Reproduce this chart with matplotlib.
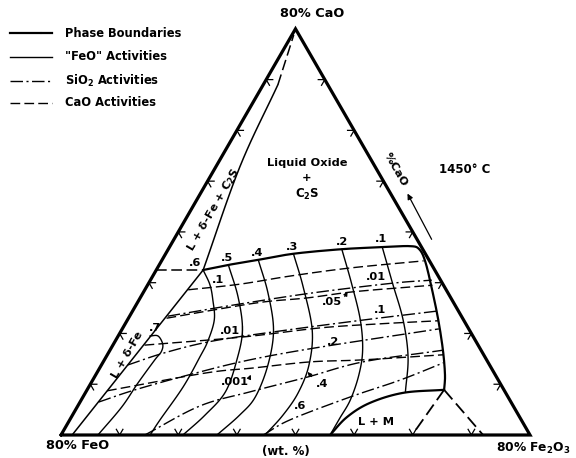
import numpy as np
import matplotlib
matplotlib.use('Agg')
import matplotlib.pyplot as plt

plt.rcParams['font.family'] = 'DejaVu Sans'
plt.rcParams['font.weight'] = 'bold'
plt.rcParams['mathtext.default'] = 'bf'

# compositions as (wt% CaO, wt% Fe2O3); each apex of the diagram is 80 %
# --- phase boundaries ---
liq_top_cao = [32.5, 33.5, 34.5, 35.7, 36.6, 37.0, 37.2, 36.6, 34.1, 28.6, 22.7, 16.7, 11.8, 8.9]
liq_top_fe = [8.0, 11.8, 16.4, 21.8, 29.6, 36.3, 40.9, 42.8, 45.1, 49.0, 53.0, 56.8, 59.6, 60.9]
lm_cao = [8.9, 8.3, 6.3, 3.5, 0.0]
lm_fe = [60.9, 54.2, 49.5, 47.0, 45.9]
delta_cao = [0.0, 32.5]
delta_fe = [1.9, 8.0]
c2s_cao = [32.5, 52.8, 69.0]
c2s_fe = [8.0, 4.1, 2.5]
c2s_top_cao = [69.0, 78.8]
c2s_top_fe = [2.5, 0.3]
tie_cao = [32.5, 32.5]
tie_fe = [0.0, 8.0]
mag_a_cao = [8.9, 0.0]
mag_a_fe = [60.9, 59.9]
mag_b_cao = [8.9, 0.0]
mag_b_fe = [60.9, 72.0]

# --- "FeO" activities ---
feo_07_cao = [19.5, 19.5, 17.9, 16.4, 14.8, 10.2, 5.5, 0.0]
feo_07_fe = [5.4, 6.8, 8.4, 8.9, 8.6, 8.0, 7.6, 6.3]
feo_06_cao = [32.5, 29.6, 26.6, 22.7, 18.5, 15.4, 9.5, 3.0, 0.0]
feo_06_fe = [8.0, 10.6, 12.6, 14.8, 15.8, 16.0, 16.1, 15.4, 15.2]
feo_05_cao = [33.5, 27.2, 20.7, 14.8, 8.5, 3.9, 0.0]
feo_05_fe = [11.8, 16.6, 20.6, 22.6, 23.8, 22.6, 20.8]
feo_04_cao = [34.5, 28.0, 20.7, 13.8, 7.5, 3.9, 0.0]
feo_04_fe = [16.4, 21.3, 25.9, 28.4, 29.4, 28.5, 26.6]
feo_03_cao = [35.7, 29.2, 20.7, 13.8, 8.3, 3.9, 0.0]
feo_03_fe = [21.8, 26.7, 32.5, 35.4, 36.3, 35.9, 34.8]
feo_02_cao = [36.6, 29.9, 22.7, 16.7, 11.8, 6.9, 3.3, 0.0]
feo_02_fe = [29.6, 34.6, 39.7, 43.1, 44.9, 45.9, 45.9, 45.9]
feo_01_cao = [37.0, 29.9, 22.7, 15.4, 8.5]
feo_01_fe = [36.3, 41.6, 47.0, 51.5, 54.5]

# --- SiO2 activities ---
sio2_001_cao = [23.4, 25.8, 28.0, 29.9, 30.5]
sio2_001_fe = [6.5, 17.6, 29.0, 41.6, 48.0]
sio2_01_cao = [13.8, 16.2, 18.5, 20.5, 22.5, 24.4]
sio2_01_fe = [4.5, 9.6, 16.6, 27.2, 39.3, 51.9]
sio2_02_cao = [6.5, 8.9, 12.0, 14.8, 17.3, 20.9]
sio2_02_fe = [3.2, 8.2, 16.3, 24.8, 35.5, 54.0]
sio2_04_cao = [0.0, 5.7, 8.5, 11.4, 14.4, 16.7]
sio2_04_fe = [14.3, 20.8, 28.0, 36.3, 44.3, 56.8]
sio2_06_cao = [0.0, 3.0, 7.5, 10.8, 14.2]
sio2_06_fe = [34.5, 37.6, 45.6, 52.4, 58.1]

# --- CaO activities ---
cao_01_cao = [28.6, 29.7, 31.3, 32.9, 34.3]
cao_01_fe = [7.4, 15.6, 23.4, 32.9, 44.7]
cao_005_cao = [23.0, 24.6, 26.2, 27.0, 28.2, 29.2, 29.5]
cao_005_fe = [6.5, 13.6, 21.4, 28.5, 35.7, 45.5, 48.6]
cao_001_cao = [17.7, 19.3, 21.1, 21.9, 22.5]
cao_001_fe = [5.4, 21.3, 33.7, 43.5, 53.1]
cao_0001_cao = [8.7, 12.2, 13.2, 14.4, 14.8, 15.8]
cao_0001_fe = [3.5, 18.5, 26.2, 35.3, 44.1, 57.3]

feo_curves = [(feo_07_cao, feo_07_fe), (feo_06_cao, feo_06_fe), (feo_05_cao, feo_05_fe),
              (feo_04_cao, feo_04_fe), (feo_03_cao, feo_03_fe), (feo_02_cao, feo_02_fe),
              (feo_01_cao, feo_01_fe)]
sio2_curves = [(sio2_001_cao, sio2_001_fe), (sio2_01_cao, sio2_01_fe), (sio2_02_cao, sio2_02_fe),
               (sio2_04_cao, sio2_04_fe), (sio2_06_cao, sio2_06_fe)]
cao_curves = [(cao_01_cao, cao_01_fe), (cao_005_cao, cao_005_fe), (cao_001_cao, cao_001_fe),
              (cao_0001_cao, cao_0001_fe)]

DASH = (0, (7, 3))
DASHDOT = (0, (9, 2.5, 1.5, 2.5))


def tern(cao, fe2o3):
    c = np.asarray(cao, dtype=float) / 80.0
    f = np.asarray(fe2o3, dtype=float) / 80.0
    return f + c / 2.0, c * np.sqrt(3) / 2.0


def catmull(x, y, n=10):
    # simple Catmull-Rom so the hand-drawn curves stay round
    p = np.column_stack([x, y])
    if len(p) < 3:
        return x, y
    p = np.vstack([2 * p[0] - p[1], p, 2 * p[-1] - p[-2]])
    out = []
    t = np.linspace(0, 1, n, endpoint=False)[:, None]
    for i in range(1, len(p) - 2):
        p0, p1, p2, p3 = p[i - 1], p[i], p[i + 1], p[i + 2]
        seg = 0.5 * (2 * p1 + (-p0 + p2) * t + (2 * p0 - 5 * p1 + 4 * p2 - p3) * t ** 2
                     + (-p0 + 3 * p1 - 3 * p2 + p3) * t ** 3)
        out.append(seg)
    out.append(p[-2][None, :])
    out = np.vstack(out)
    return out[:, 0], out[:, 1]


def tline(ax, cao, fe, smooth=True, **kw):
    x, y = tern(cao, fe)
    if smooth:
        x, y = catmull(x, y)
    ax.plot(x, y, color='black', solid_capstyle='round', **kw)


fig = plt.figure(figsize=(5.76, 4.58), dpi=100)
ax = fig.add_axes([0, 0, 1, 1])
ax.set_xlim(-61 / 469, 515 / 469)
ax.set_ylim(-23 / 469, 435 / 469)
ax.axis('off')

# triangle frame
tline(ax, [0, 0, 80, 0], [0, 80, 0, 0], smooth=False, lw=2.3, solid_joinstyle='miter')

# edge ticks, arms parallel to the other two sides
h = np.sqrt(3) / 2
arm = 0.014
corners = np.array([[0, 0], [1, 0], [0.5, h]])
for i in range(3):
    p0, p1 = corners[i], corners[(i + 1) % 3]
    other = corners[(i + 2) % 3]
    d1 = (other - p1) / np.linalg.norm(other - p1)
    d2 = (other - p0) / np.linalg.norm(other - p0)
    for k in range(1, 8):
        p = p0 + (p1 - p0) * k / 8
        ax.plot([p[0] + arm * d1[0], p[0], p[0] + arm * d2[0]],
                [p[1] + arm * d1[1], p[1], p[1] + arm * d2[1]], color='black', lw=0.9)

# phase boundaries
tline(ax, liq_top_cao, liq_top_fe, lw=1.6)
tline(ax, lm_cao, lm_fe, lw=1.6)
tline(ax, delta_cao, delta_fe, lw=1.1)
tline(ax, c2s_cao, c2s_fe, lw=1.1)
tline(ax, c2s_top_cao, c2s_top_fe, lw=1.1, ls=DASH)
tline(ax, tie_cao, tie_fe, lw=1.1, ls=DASH)
tline(ax, mag_a_cao, mag_a_fe, lw=1.3, ls=DASH)
tline(ax, mag_b_cao, mag_b_fe, lw=1.3, ls=DASH)

# activity isolines
for cc, ff in feo_curves:
    tline(ax, cc, ff, lw=1.0)
for cc, ff in sio2_curves:
    tline(ax, cc, ff, lw=1.0, ls=DASHDOT)
for cc, ff in cao_curves:
    tline(ax, cc, ff, lw=1.0, ls=DASH)

fs = 8.2
lab = dict(fontsize=fs, ha='center', va='center')

# FeO activity labels along the liquid boundary
for t, xy in [('.6', (0.286, 0.367)), ('.5', (0.354, 0.377)), ('.4', (0.418, 0.388)),
              ('.3', (0.493, 0.401)), ('.2', (0.599, 0.412)), ('.1', (0.682, 0.418)),
              ('.7', (0.200, 0.228))]:
    ax.text(*xy, t, **lab)

# CaO activity labels
ax.text(0.335, 0.330, '.1', **lab)
ax.text(0.360, 0.222, '.01', **lab)
ax.plot([0.386, 0.386, 0.398], [0.232, 0.212, 0.212], color='black', lw=0.8)
ax.text(0.578, 0.284, '.05', **lab)
ax.annotate('', xy=(0.614, 0.311), xytext=(0.602, 0.290),
            arrowprops=dict(arrowstyle='-|>', color='black', lw=0.8, mutation_scale=6))
ax.text(0.371, 0.113, '.001', **lab)
ax.annotate('', xy=(0.407, 0.134), xytext=(0.400, 0.118),
            arrowprops=dict(arrowstyle='-|>', color='black', lw=0.8, mutation_scale=6))

# SiO2 activity labels
ax.text(0.672, 0.337, '.01', **lab)
ax.text(0.680, 0.267, '.1', **lab)
ax.text(0.580, 0.198, '.2', **lab)
ax.text(0.556, 0.109, '.4', **lab)
ax.annotate('', xy=(0.522, 0.139), xytext=(0.538, 0.120),
            arrowprops=dict(arrowstyle='-|>', color='black', lw=0.8, mutation_scale=6))
ax.text(0.510, 0.062, '.6', **lab)

# field labels
ax.text(0.524, 0.580, 'Liquid Oxide', **lab)
ax.text(0.524, 0.548, '+', **lab)
ax.text(0.524, 0.512, 'C$_2$S', fontsize=8.5, ha='center', va='center')
ax.text(0.672, 0.028, 'L + M', **lab)
ax.text(0.326, 0.480, 'L + δ-Fe + C$_2$S', fontsize=fs, ha='center', va='center',
        rotation=60, rotation_mode='anchor')
ax.text(0.141, 0.171, 'L + δ-Fe', fontsize=fs, ha='center', va='center',
        rotation=60, rotation_mode='anchor')
ax.text(0.861, 0.567, '1450° C', fontsize=8.5, ha='center', va='center')
ax.text(0.714, 0.565, '%CaO', fontsize=fs, ha='center', va='center',
        rotation=-60, rotation_mode='anchor')
ax.annotate('', xy=(0.736, 0.520), xytext=(0.793, 0.412),
            arrowprops=dict(arrowstyle='-|>', color='black', lw=0.9, mutation_scale=8))

# corner labels
ax.text(0.535, 0.898, '80% CaO', fontsize=9.3, ha='center', va='center')
ax.text(0.036, -0.023, '80% FeO', fontsize=9.3, ha='center', va='center')
ax.text(1.006, -0.028, '80% Fe$_2$O$_3$', fontsize=8.8, ha='center', va='center')
ax.text(0.480, -0.036, '(wt. %)', fontsize=8.5, ha='center', va='center')

# legend
lx0, lx1 = -0.109, -0.019
leg_y = [0.857, 0.806, 0.755, 0.708]
ax.plot([lx0, -0.045], [leg_y[0]] * 2, color='black', lw=1.6)
ax.plot([-0.040, lx1], [leg_y[0]] * 2, color='black', lw=1.6)
ax.plot([lx0, lx1], [leg_y[1]] * 2, color='black', lw=1.0)
ax.plot([lx0, lx1], [leg_y[2]] * 2, color='black', lw=1.0, ls=DASHDOT)
ax.plot([lx0, lx1], [leg_y[3]] * 2, color='black', lw=1.0, ls=DASH)
for t, yy in zip(['Phase Boundaries', '"FeO" Activities', 'SiO$_2$ Activities', 'CaO Activities'], leg_y):
    ax.text(0.0085, yy, t, fontsize=8.3, ha='left', va='center')

fig.savefig('out.png', dpi=100)
